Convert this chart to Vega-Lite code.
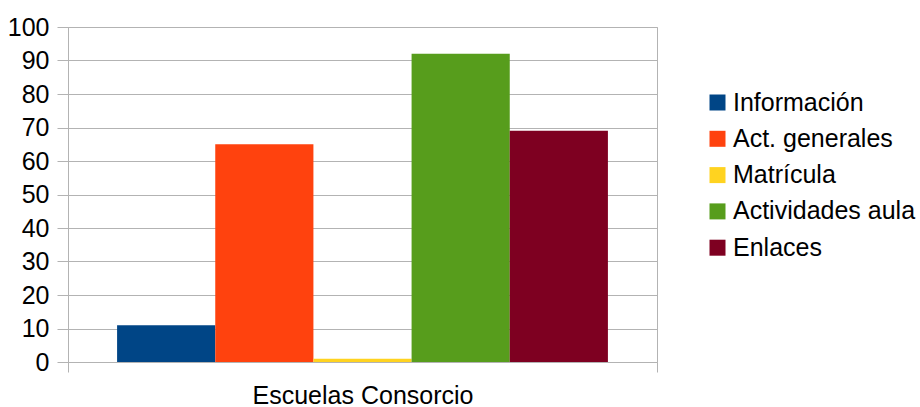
{
  "$schema": "https://vega.github.io/schema/vega-lite/v6.json",
  "autosize": "none",
  "width": 589,
  "height": 335,
  "padding": {"left": 68, "top": 27, "right": 263, "bottom": 45},
  "background": "white",
  "config": {
    "font": "Liberation Sans",
    "view": {"stroke": "#b3b3b3", "strokeWidth": 1},
    "axis": {"labelFont": "Liberation Sans", "labelColor": "#000000", "gridColor": "#b3b3b3", "domainColor": "#b3b3b3", "tickColor": "#b3b3b3"}
  },
  "data": {
    "values": [
      {"grupo": "Escuelas Consorcio", "serie": "Información", "valor": 11},
      {"grupo": "Escuelas Consorcio", "serie": "Act. generales", "valor": 65},
      {"grupo": "Escuelas Consorcio", "serie": "Matrícula", "valor": 1},
      {"grupo": "Escuelas Consorcio", "serie": "Actividades aula", "valor": 92},
      {"grupo": "Escuelas Consorcio", "serie": "Enlaces", "valor": 69}
    ]
  },
  "mark": {"type": "bar"},
  "encoding": {
    "x": {
      "field": "grupo",
      "type": "nominal",
      "scale": {"paddingInner": 0, "paddingOuter": 0},
      "axis": {"title": null, "labelAngle": 0, "labelFontSize": 25, "labelLimit": 500, "tickBand": "extent", "tickSize": 10, "labelPadding": 11, "domain": false, "grid": false}
    },
    "xOffset": {
      "field": "serie",
      "type": "nominal",
      "scale": {"domain": ["Información", "Act. generales", "Matrícula", "Actividades aula", "Enlaces"], "paddingInner": 0, "paddingOuter": 0.5}
    },
    "y": {
      "field": "valor",
      "type": "quantitative",
      "scale": {"domain": [0, 100], "nice": false},
      "axis": {"title": null, "values": [0, 10, 20, 30, 40, 50, 60, 70, 80, 90, 100], "labelFontSize": 25, "tickSize": 11, "labelPadding": 8, "grid": true, "domain": true}
    },
    "color": {
      "field": "serie",
      "type": "nominal",
      "scale": {"domain": ["Información", "Act. generales", "Matrícula", "Actividades aula", "Enlaces"], "range": ["#004586", "#ff420e", "#ffd320", "#579d1c", "#7e0021"]},
      "legend": {"title": null, "orient": "none", "legendX": 637, "legendY": 63, "padding": 0, "symbolType": "square", "symbolSize": 256, "symbolStrokeWidth": 0, "labelFontSize": 25, "labelFont": "Liberation Sans", "labelColor": "#000000", "labelOffset": 3, "rowPadding": 10.3, "labelLimit": 300}
    }
  }
}
